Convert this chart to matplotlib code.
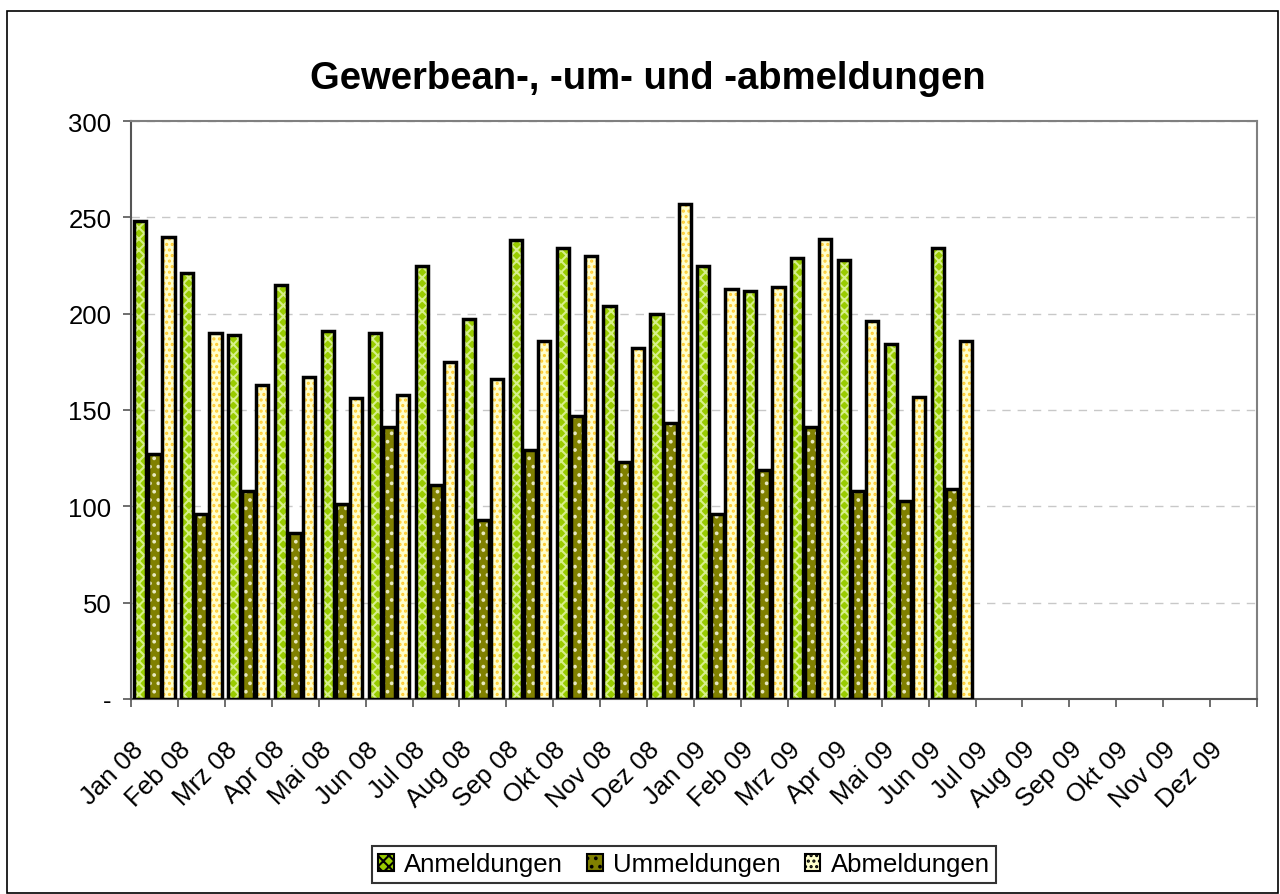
import matplotlib
matplotlib.use("Agg")
import matplotlib.pyplot as plt
import matplotlib.patches as mpatches
import matplotlib.transforms as mtransforms
import numpy as np

plt.rcParams['font.family'] = ['Liberation Sans', 'DejaVu Sans']
plt.rcParams['hatch.linewidth'] = 1.5

months = ["Jan 08", "Feb 08", "Mrz 08", "Apr 08", "Mai 08", "Jun 08",
          "Jul 08", "Aug 08", "Sep 08", "Okt 08", "Nov 08", "Dez 08",
          "Jan 09", "Feb 09", "Mrz 09", "Apr 09", "Mai 09", "Jun 09",
          "Jul 09", "Aug 09", "Sep 09", "Okt 09", "Nov 09", "Dez 09"]
anmeldungen = [248, 221, 189, 215, 191, 190, 225, 197, 238, 234, 204, 200,
               225, 212, 229, 228, 184, 234]
ummeldungen = [127, 96, 108, 86, 101, 141, 111, 93, 129, 147, 123, 143,
               96, 119, 141, 108, 103, 109]
abmeldungen = [240, 190, 163, 167, 156, 158, 175, 166, 186, 230, 182, 257,
               213, 214, 239, 196, 157, 186]

series = [
    ("Anmeldungen", anmeldungen, "#99CC00", "#D6F08A", "xxx"),
    ("Ummeldungen", ummeldungen, "#808000", "#E8E8C0", ".."),
    ("Abmeldungen", abmeldungen, "#FFFFCC", "#FFCC33", "..."),
]

fig = plt.figure(figsize=(12.8, 8.95), dpi=100)
ax = fig.add_axes([131 / 1280, 1 - 700 / 895, 1126 / 1280, 578 / 895])

# outer chart border
fig.patches.append(mpatches.Rectangle((7 / 1280, 1.5 / 895), 1271 / 1280, 881.5 / 895,
                                      transform=fig.transFigure, fill=False,
                                      edgecolor="black", linewidth=1.2))

step = 0.3
width = 0.26
handles = []
for i, (name, vals, fc, hc, hatch) in enumerate(series):
    x = np.arange(len(vals)) + 0.5 + (i - 1) * step
    ax.bar(x, vals, width=width, color=fc, edgecolor=hc, hatch=hatch,
           linewidth=0, zorder=3)
    ax.bar(x, vals, width=width, fill=False, edgecolor="black",
           linewidth=2.5, zorder=4)
    handles.append(mpatches.Patch(facecolor=fc, edgecolor="black", hatch=hatch,
                                  linewidth=1.5, label=name))

ax.set_xlim(0, len(months))
ax.set_ylim(0, 300)
ax.set_yticks(range(0, 301, 50))
ax.set_yticklabels(["-"] + [str(v) for v in range(50, 301, 50)], fontsize=18.5)
ax.set_xticks(np.arange(len(months) + 1))
ax.set_xticklabels([])
ax.set_xticks(np.arange(len(months)) + 0.5, minor=True)
ax.set_xticklabels(months, minor=True, rotation=45, ha="right",
                   rotation_mode="anchor", fontsize=18.5)
ax.tick_params(axis="x", which="minor", length=0, pad=12)
ax.tick_params(axis="both", which="major", length=6, width=1.2, color="#555555")
ax.tick_params(axis="y", pad=8)

# Excel places the rotated labels a bit further down-left
shift = mtransforms.ScaledTranslation(-0.23, -0.21, fig.dpi_scale_trans)
for lab in ax.get_xticklabels(minor=True):
    lab.set_transform(lab.get_transform() + shift)

ax.yaxis.grid(True, linestyle=(0, (6, 5)), color="#C8C8C8", linewidth=1, zorder=0)
ax.set_axisbelow(True)
for s in ax.spines.values():
    s.set_color("#808080")
    s.set_linewidth(1.5)
ax.spines["left"].set_color("#555555")
ax.spines["bottom"].set_color("#555555")

fig.text(648 / 1280, 1 - 89 / 895, "Gewerbean-, -um- und -abmeldungen",
         ha="center", va="baseline", fontsize=27.5, fontweight="bold")

leg = fig.legend(handles=handles, loc="upper center", bbox_to_anchor=(684 / 1280, 1 - 847 / 895),
                 ncol=3, fontsize=18.5, frameon=True, fancybox=False,
                 handlelength=0.6, handleheight=0.6, handletextpad=0.4,
                 columnspacing=0.95, borderpad=0.25, borderaxespad=0)
leg.get_frame().set_edgecolor("black")
leg.get_frame().set_linewidth(1.5)

fig.savefig("out.png", dpi=100)
